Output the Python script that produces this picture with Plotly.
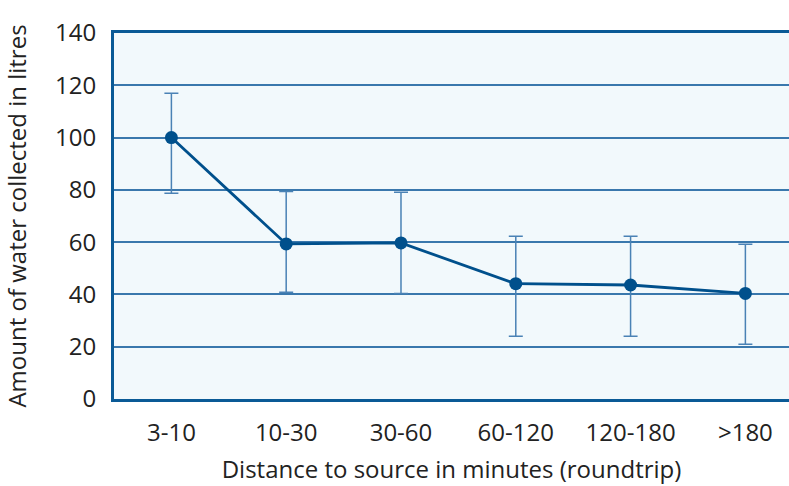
import plotly.graph_objects as go

categories = ["3-10", "10-30", "30-60", "60-120", "120-180", ">180"]
mean_litres = [100, 59.3, 59.7, 44.1, 43.6, 40.4]
upper_litres = [117, 79.4, 79.1, 62.3, 62.3, 59.2]
lower_litres = [78.7, 40.8, 40.4, 24.0, 24.0, 20.9]
y_ticks = [0, 20, 40, 60, 80, 100, 120, 140]

err_plus = [u - m for u, m in zip(upper_litres, mean_litres)]
err_minus = [m - l for m, l in zip(mean_litres, lower_litres)]

fig = go.Figure()
fig.add_trace(go.Scatter(
    x=list(range(len(categories))), y=mean_litres,
    mode="lines+markers",
    line=dict(color="#00508c", width=2.8),
    marker=dict(color="#00508c", size=13),
    error_y=dict(type="data", array=err_plus, arrayminus=err_minus,
                 color="#4a82b5", thickness=1.5, width=7),
    showlegend=False,
))

font_family = "Open Sans, Noto Sans, sans-serif"
fig.update_layout(
    width=789, height=486,
    margin=dict(l=114, r=0, t=33, b=87),
    paper_bgcolor="white",
    plot_bgcolor="#f2f9fc",
    font=dict(family=font_family, size=24, color="#222222"),
    xaxis=dict(
        range=[-0.5, 5.38],
        tickmode="array", tickvals=list(range(len(categories))), ticktext=categories,
        tickfont=dict(size=24),
        showgrid=False, zeroline=False,
        showline=True, mirror=True, linecolor="#0a5a96", linewidth=3,
        ticks="", ticklabelstandoff=10,
        title=dict(text="Distance to source in minutes (roundtrip)", standoff=15,
                   font=dict(size=24)),
    ),
    yaxis=dict(
        range=[0, 140],
        tickmode="array", tickvals=y_ticks,
        tickfont=dict(size=24),
        showgrid=True, gridcolor="#3a78ad", gridwidth=1.5,
        zeroline=False,
        showline=True, linecolor="#0a5a96", linewidth=3,
        ticks="", ticklabelstandoff=10,
        title=dict(text="Amount of water collected in litres", standoff=30,
                   font=dict(size=24)),
    ),
)

fig.write_html(
    "out.html",
    config={"displayModeBar": False},
    post_script="document.body.style.margin='0';document.body.style.overflow='hidden';",
)
